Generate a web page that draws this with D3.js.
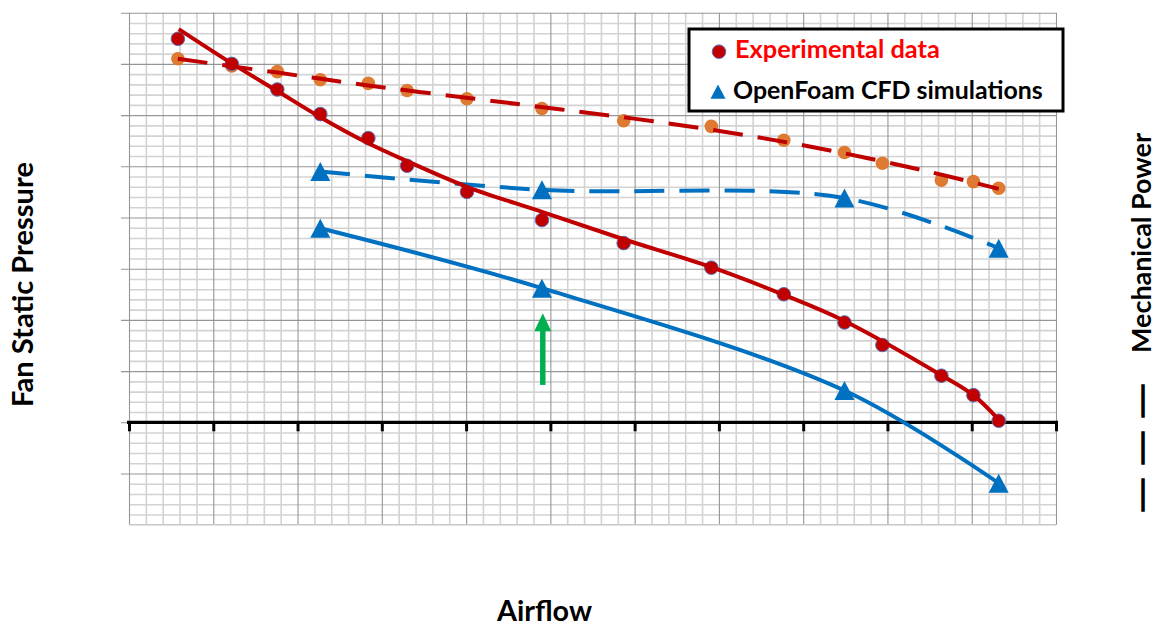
<!DOCTYPE html>
<html><head><meta charset="utf-8">
<script src="https://cdn.jsdelivr.net/npm/d3@7"></script>
<style>html,body{margin:0;padding:0;background:#fff;} svg{display:block;}</style>
</head><body><svg id="chart" width="1158" height="626"></svg>
<script>
// ---------- data (arbitrary units) ----------
const expAirflow  = [0.58, 1.22, 1.76, 2.27, 2.84, 3.30, 4.01, 4.90, 5.87, 6.91, 7.77, 8.49, 8.94, 9.64, 10.02, 10.32];
const expPressure = [7.49, 7.00, 6.50, 6.02, 5.55, 5.01, 4.50, 3.95, 3.50, 3.02, 2.50, 1.95, 1.51, 0.91, 0.53, 0.03];
const expPower    = [7.10, 6.96, 6.85, 6.69, 6.62, 6.48, 6.32, 6.13, 5.89, 5.78, 5.51, 5.27, 5.06, 4.73, 4.70, 4.57];

const pressureTrendAirflow = [0.59, 1.21, 1.76, 2.27, 2.84, 3.30, 4.01, 4.90, 5.86, 6.91, 7.77, 8.49, 9.64, 10.02, 10.32];
const pressureTrend        = [7.68, 7.02, 6.47, 5.96, 5.45, 5.10, 4.60, 4.11, 3.58, 3.03, 2.49, 1.98, 0.92, 0.53, 0.05];
const powerTrendAirflow = [0.58, 1.76, 2.84, 4.05, 5.13, 6.22, 7.31, 8.38, 9.45, 10.32];
const powerTrend        = [7.10, 6.83, 6.58, 6.33, 6.11, 5.88, 5.61, 5.29, 4.91, 4.56];

const cfdAirflow  = [2.27, 4.90, 8.49, 10.32];
const cfdPressure = [3.79, 2.62, 0.62, -1.19];
const cfdPower    = [4.90, 4.54, 4.38, 3.40];

const arrowAirflow = 4.91;
const arrowFrom = 0.73, arrowTo = 2.13;

const xMajorTicks = d3.range(0, 12, 1);
const yMajorTicks = d3.range(-2, 9, 1);
const legendLabels = ["Experimental data", "OpenFoam CFD simulations"];
const yTitle = "Fan Static Pressure";
const y2Title = "Mechanical Power";
const y2Dashes = "— — —";
const xTitle = "Airflow";

// ---------- layout ----------
const svg = d3.select("#chart");
const FONT = "Lato, Carlito, Calibri, 'Open Sans', sans-serif";
const L = 129, R = 1056, T = 12.7, B = 524.7;
const x = d3.scaleLinear().domain([0, 11]).range([L, R]);
const y = d3.scaleLinear().domain([-2, 8]).range([B, T]);

const RED = "#C00000", BLUE = "#0070C0", ORANGE = "#DE7A31", GREEN = "#00B050";

svg.append("rect").attr("width", 1158).attr("height", 626).attr("fill", "#fff");

// minor grid
const xMinor = d3.range(0, 55).map(i => i / 5).filter(v => v % 1 !== 0);
const yMinor = d3.range(-10, 41).map(i => i / 5).filter(v => Math.abs(v % 1) > 1e-9);
svg.append("g").attr("transform", `translate(0,${B})`)
  .call(d3.axisBottom(x).tickValues(xMinor).tickSize(-(B - T)).tickFormat(""))
  .call(g => g.select(".domain").remove())
  .call(g => g.selectAll("line").attr("stroke", "#d3d3d3").attr("stroke-width", 1.6));
svg.append("g").attr("transform", `translate(${L},0)`)
  .call(d3.axisLeft(y).tickValues(yMinor).tickSize(-(R - L)).tickFormat(""))
  .call(g => g.select(".domain").remove())
  .call(g => g.selectAll("line").attr("stroke", "#d3d3d3").attr("stroke-width", 1.6));
// major grid
svg.append("g").attr("transform", `translate(0,${B})`)
  .call(d3.axisBottom(x).tickValues(xMajorTicks).tickSize(-(B - T)).tickFormat(""))
  .call(g => g.select(".domain").remove())
  .call(g => g.selectAll("line").attr("stroke", "#969696").attr("stroke-width", 1.1));
svg.append("g").attr("transform", `translate(${L - 8},0)`)
  .call(d3.axisLeft(y).tickValues(yMajorTicks.filter(v => v !== -2)).tickSize(-(R - L + 8)).tickFormat(""))
  .call(g => g.select(".domain").remove())
  .call(g => g.selectAll("line").attr("stroke", "#969696").attr("stroke-width", 1.1));
svg.append("line").attr("x1", L).attr("x2", R).attr("y1", B).attr("y2", B)
  .attr("stroke", "#c8c8c8").attr("stroke-width", 1.6);

// x axis at zero
svg.append("g").attr("transform", `translate(0,${y(0)})`)
  .call(d3.axisBottom(x).tickValues(xMajorTicks).tickSize(9).tickSizeOuter(0).tickFormat(""))
  .call(g => g.select(".domain").attr("stroke", "#000").attr("stroke-width", 3.2)
      .attr("d", `M${L - 2},0H${R + 2}`))
  .call(g => g.selectAll(".tick line").attr("stroke", "#000").attr("stroke-width", 3));

// custom triangle (bbox-centred) symbol
const tri = { draw(ctx, size) { const w = Math.sqrt(size), h = w * 0.95;
  ctx.moveTo(0, -h / 2); ctx.lineTo(w / 2, h / 2); ctx.lineTo(-w / 2, h / 2); ctx.closePath(); } };

// experimental markers
svg.append("g").selectAll("circle").data(expAirflow.map((a, i) => [a, expPower[i]])).join("circle")
  .attr("cx", d => x(d[0])).attr("cy", d => y(d[1])).attr("r", 6.8).attr("fill", ORANGE);
svg.append("g").selectAll("circle").data(expAirflow.map((a, i) => [a, expPressure[i]])).join("circle")
  .attr("cx", d => x(d[0])).attr("cy", d => y(d[1])).attr("r", 6.8).attr("fill", RED)
  .attr("stroke", "#5a6fb8").attr("stroke-width", 1);

// CFD series
const smooth = d3.line().x(d => x(d[0])).y(d => y(d[1])).curve(d3.curveCatmullRom.alpha(0.5));
svg.append("path").datum(cfdAirflow.map((a, i) => [a, cfdPower[i]]))
  .attr("d", smooth).attr("fill", "none").attr("stroke", BLUE).attr("stroke-width", 4)
  .attr("stroke-dasharray", "30,15");
svg.append("path").datum(cfdAirflow.map((a, i) => [a, cfdPressure[i]]))
  .attr("d", smooth).attr("fill", "none").attr("stroke", BLUE).attr("stroke-width", 4);
svg.append("g").selectAll("path").data(cfdAirflow.flatMap((a, i) => [[a, cfdPower[i]], [a, cfdPressure[i]]])).join("path")
  .attr("transform", d => `translate(${x(d[0])},${y(d[1])})`)
  .attr("d", d3.symbol(tri, 400)).attr("fill", BLUE);

// trendlines
svg.append("path").datum(powerTrendAirflow.map((a, i) => [a, powerTrend[i]]))
  .attr("d", smooth).attr("fill", "none").attr("stroke", RED).attr("stroke-width", 4)
  .attr("stroke-dasharray", "30,15");
svg.append("path").datum(pressureTrendAirflow.map((a, i) => [a, pressureTrend[i]]))
  .attr("d", smooth).attr("fill", "none").attr("stroke", RED).attr("stroke-width", 4);

// green arrow
const ax = x(arrowAirflow), ay0 = y(arrowFrom), ay1 = y(arrowTo);
svg.append("line").attr("x1", ax).attr("x2", ax).attr("y1", ay0).attr("y2", ay1 + 16)
  .attr("stroke", GREEN).attr("stroke-width", 5.5);
svg.append("path").attr("d", `M${ax},${ay1}L${ax + 8.5},${ay1 + 18}L${ax - 8.5},${ay1 + 18}Z`).attr("fill", GREEN);

// legend
const lg = svg.append("g");
lg.append("rect").attr("x", 689).attr("y", 29).attr("width", 374).attr("height", 82)
  .attr("fill", "#fff").attr("stroke", "#000").attr("stroke-width", 3);
lg.append("circle").attr("cx", 719).attr("cy", 51.7).attr("r", 6.8).attr("fill", RED)
  .attr("stroke", "#5a6fb8").attr("stroke-width", 1);
lg.append("path").attr("transform", "translate(718,91.5)").attr("d", d3.symbol(tri, 225)).attr("fill", BLUE);

function fit(sel, target) {
  const w = sel.node().getComputedTextLength();
  sel.attr("font-size", parseFloat(sel.attr("font-size")) * target / w);
  return sel;
}
fit(lg.append("text").attr("x", 735).attr("y", 58).attr("font-family", FONT).attr("font-weight", "bold")
  .attr("font-size", 22).attr("fill", "#FF0000").text(legendLabels[0]), 205);
fit(lg.append("text").attr("x", 733).attr("y", 99).attr("font-family", FONT).attr("font-weight", "bold")
  .attr("font-size", 22).attr("fill", "#000").text(legendLabels[1]), 310);

// axis titles
fit(svg.append("text").attr("transform", "translate(33,284.5) rotate(-90)").attr("text-anchor", "middle")
  .attr("font-family", FONT).attr("font-weight", "bold").attr("font-size", 24).text(yTitle), 245);
fit(svg.append("text").attr("transform", "translate(1151,243) rotate(-90)").attr("text-anchor", "middle")
  .attr("font-family", FONT).attr("font-weight", "bold").attr("font-size", 24).text(y2Title), 220);
svg.append("text").attr("transform", "translate(1150,448) rotate(-90)").attr("text-anchor", "middle")
  .attr("font-family", FONT).attr("font-weight", "bold").attr("font-size", 22)
  .attr("stroke", "#000").attr("stroke-width", 1.4)
  .attr("textLength", 130).attr("lengthAdjust", "spacingAndGlyphs").text(y2Dashes);
fit(svg.append("text").attr("x", 544.5).attr("y", 621).attr("text-anchor", "middle")
  .attr("font-family", FONT).attr("font-weight", "bold").attr("font-size", 26).text(xTitle), 95);
</script></body></html>
